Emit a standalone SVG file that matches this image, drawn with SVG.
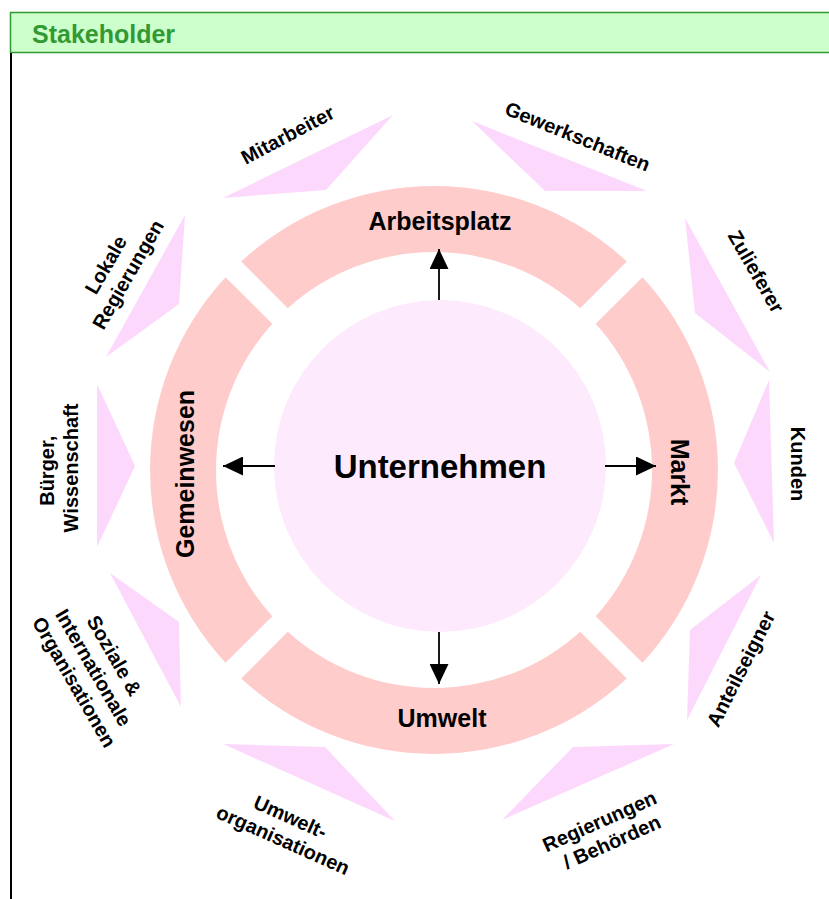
<svg xmlns="http://www.w3.org/2000/svg" width="829" height="899" viewBox="0 0 829 899">
  <style>
    text { font-family: "Liberation Sans", Arial, Helvetica, sans-serif; font-weight: bold; fill: #000; }
    .title { font-size: 25px; fill: #339933; }
    .core { font-size: 33px; text-anchor: middle; }
    .area { font-size: 25px; text-anchor: middle; }
    .sh { font-size: 20px; text-anchor: middle; }
    .seg { fill: #ffcccc; }
    .tri { fill: #fdd8fd; }
    .conn { stroke: #000; stroke-width: 1.8; fill: none; marker-end: url(#arrow); }
  </style>
  <defs>
    <marker id="arrow" markerUnits="userSpaceOnUse" markerWidth="20" markerHeight="19" refX="20" refY="9.5" orient="auto">
      <path d="M0,0 L20,9.5 L0,19 Z" fill="#000"/>
    </marker>
    <!-- one quarter of the ring, top position; the others are rotated copies -->
    <path id="quarter" d="M 241.2 261.5 A 284 284 0 0 1 626.8 261.5 L 580.2 308.3 A 218 218 0 0 0 287.8 308.3 Z"/>
  </defs>

  <rect width="829" height="899" fill="#fff"/>

  <!-- header bar -->
  <g id="header">
    <rect x="10.5" y="12.5" width="830" height="40" fill="#ccffcc" stroke="#339933" stroke-width="1.5"/>
    <line x1="11" y1="53" x2="11" y2="899" stroke="#000" stroke-width="2"/>
    <text class="title" x="32" y="43">Stakeholder</text>
  </g>

  <!-- stakeholder wedges -->
  <g id="wedges">
    <polygon class="tri" points="223,198 393,115 326,190"/>
    <polygon class="tri" points="472,121 647,191 545,191"/>
    <polygon class="tri" points="685,218 770,372 695,313"/>
    <polygon class="tri" points="769,380 774,543 734,463"/>
    <polygon class="tri" points="761,575 690,630 687,720"/>
    <polygon class="tri" points="674,744 573,747 502,820"/>
    <polygon class="tri" points="223,744 325,747 395,821"/>
    <polygon class="tri" points="110,573 179,622 181,707"/>
    <polygon class="tri" points="97,384 135,466 97,547"/>
    <polygon class="tri" points="185,215 179,304 106,357"/>
  </g>

  <!-- ring segments -->
  <g id="arbeitsplatz">
    <use href="#quarter" class="seg"/>
    <text class="area" x="440" y="230">Arbeitsplatz</text>
  </g>
  <g id="markt">
    <use href="#quarter" class="seg" transform="rotate(90 434 470)"/>
    <text class="area" transform="translate(671,472) rotate(90)">Markt</text>
  </g>
  <g id="umwelt">
    <use href="#quarter" class="seg" transform="rotate(180 434 470)"/>
    <text class="area" x="442" y="727">Umwelt</text>
  </g>
  <g id="gemeinwesen">
    <use href="#quarter" class="seg" transform="rotate(270 434 470)"/>
    <text class="area" transform="translate(194,474) rotate(-90)">Gemeinwesen</text>
  </g>

  <!-- company core -->
  <g id="unternehmen">
    <circle cx="440" cy="466" r="166" fill="#fdebfd"/>
    <text class="core" x="440" y="478">Unternehmen</text>
  </g>

  <!-- connectors from the core to the ring -->
  <g id="connectors">
    <line class="conn" x1="439" y1="300" x2="439" y2="249"/>
    <line class="conn" x1="439" y1="632" x2="439" y2="684"/>
    <line class="conn" x1="275" y1="466" x2="223" y2="466"/>
    <line class="conn" x1="605" y1="466" x2="656" y2="466"/>
  </g>

  <!-- stakeholder labels -->
  <g id="mitarbeiter">
    <text class="sh" transform="translate(291,141) rotate(-28)">Mitarbeiter</text>
  </g>
  <g id="gewerkschaften">
    <text class="sh" transform="translate(575,143) rotate(22)">Gewerkschaften</text>
  </g>
  <g id="zulieferer">
    <text class="sh" transform="translate(750,275) rotate(60)">Zulieferer</text>
  </g>
  <g id="kunden">
    <text class="sh" transform="translate(791,464) rotate(90)">Kunden</text>
  </g>
  <g id="anteilseigner">
    <text class="sh" transform="translate(747,672) rotate(-63)">Anteilseigner</text>
  </g>
  <g id="regierungen">
    <text class="sh" transform="translate(607,831) rotate(-24)">
      <tspan x="0" y="-5">Regierungen</tspan>
      <tspan x="0" y="19">/ Behörden</tspan>
    </text>
  </g>
  <g id="umweltorganisationen">
    <text class="sh" transform="translate(288,829) rotate(24)">
      <tspan x="0" y="-5">Umwelt-</tspan>
      <tspan x="0" y="19">organisationen</tspan>
    </text>
  </g>
  <g id="organisationen">
    <text class="sh" transform="translate(95,670) rotate(60)">
      <tspan x="0" y="-17">Soziale &amp;</tspan>
      <tspan x="0" y="7">Internationale</tspan>
      <tspan x="0" y="31">Organisationen</tspan>
    </text>
  </g>
  <g id="buerger">
    <text class="sh" transform="translate(58.5,468) rotate(-90)">
      <tspan x="0" y="-5">Bürger,</tspan>
      <tspan x="0" y="19">Wissenschaft</tspan>
    </text>
  </g>
  <g id="lokale">
    <text class="sh" transform="translate(117.5,268.5) rotate(-60)">
      <tspan x="0" y="-5">Lokale</tspan>
      <tspan x="0" y="19">Regierungen</tspan>
    </text>
  </g>
</svg>
